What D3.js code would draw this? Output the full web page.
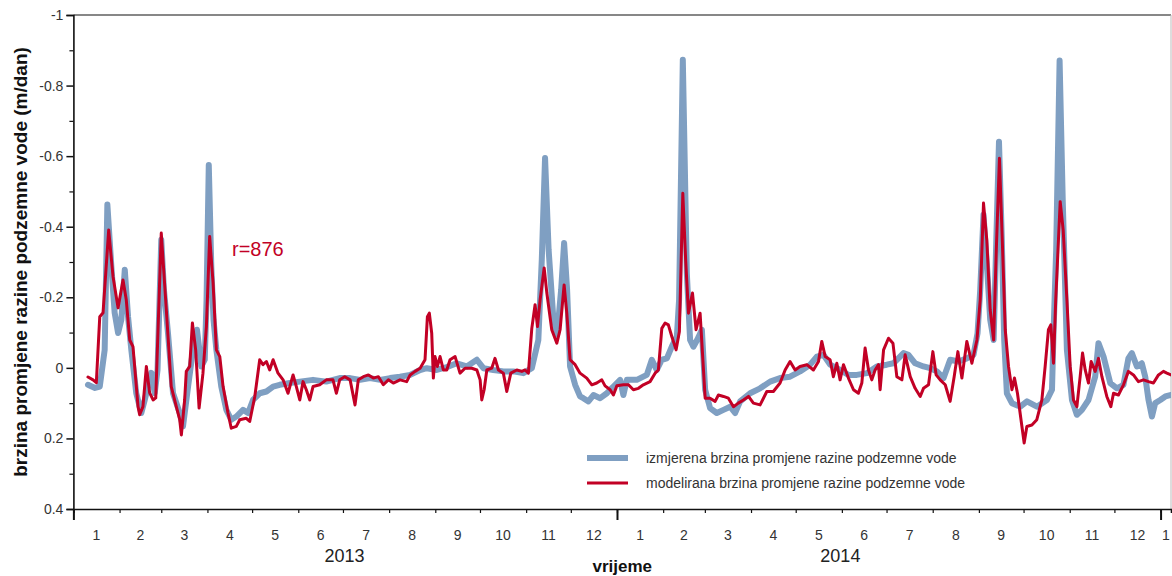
<!DOCTYPE html>
<html>
<head>
<meta charset="utf-8">
<script src="https://cdn.jsdelivr.net/npm/d3@7"></script>
<style>
  html, body { margin: 0; padding: 0; background: #fff; }
  svg { display: block; font-family: "Liberation Sans", Arial, sans-serif; }
</style>
</head>
<body>
<svg id="chart" width="1172" height="576"></svg>
<script>
// ---------- data (days since 2013-01-01, value in m/dan) ----------
const measuredDays = [9.8,14.5,17.7,21.0,22.8,25.5,27.7,30.0,32.2,34.5,36.7,38.9,42.2,45.6,47.9,52.3,54.6,56.5,59.0,60.8,63.5,66.9,71.4,73.6,77.0,80.3,83.0,85.9,88.2,89.4,90.9,92.6,94.1,96.0,99.3,102.7,106.0,109.4,113.9,117.3,120.6,125.1,129.6,134.1,138.5,145.3,152.0,160.9,169.8,178.8,185.8,192.5,199.2,205.9,212.6,219.3,226.1,232.8,237.3,244.0,250.7,257.4,264.1,270.9,275.3,282.0,288.7,295.4,302.1,307.8,312.2,314.5,316.7,319.1,322.1,324.8,327.5,329.5,331.5,333.5,336.9,340.2,342.4,345.8,349.2,353.7,358.2,360.4,362.6,367.1,369.3,371.6,378.3,385.0,388.4,391.7,395.1,398.5,401.8,405.2,406.7,409.2,411.9,414.1,416.3,418.8,422.0,424.2,427.5,432.0,436.5,441.0,444.3,447.7,454.4,461.1,467.8,474.5,481.2,487.9,494.7,499.2,503.6,508.1,514.8,520.4,526.0,532.8,539.5,546.2,550.6,557.4,560.7,565.2,570.8,575.3,579.8,584.3,588.7,594.3,599.9,604.4,607.1,608.9,611.1,613.6,615.6,617.9,619.7,621.5,623.4,625.0,626.8,630.2,635.8,640.3,647.0,653.7,657.1,658.1,659.9,662.2,664.3,667.1,670.5,673.8,677.2,681.6,686.1,688.3,691.7,696.2,700.7,705.1,708.4,710.7,714.1,717.4,719.7,721.9,724.2,726.4,729.8,733.2,736.5];
const measuredValues = [0.048,0.057,0.053,-0.051,-0.463,-0.287,-0.156,-0.099,-0.136,-0.278,-0.145,-0.051,0.072,0.128,0.091,0.014,0.072,0.006,-0.363,-0.221,-0.099,0.072,0.128,0.166,0.053,-0.051,-0.108,-0.004,-0.023,-0.193,-0.575,-0.287,-0.136,-0.051,0.053,0.119,0.147,0.138,0.119,0.128,0.091,0.072,0.067,0.053,0.048,0.043,0.039,0.034,0.039,0.029,0.029,0.034,0.029,0.034,0.029,0.025,0.020,0.006,0.001,0.006,-0.002,-0.013,-0.004,-0.023,0.001,0.006,0.010,0.010,0.015,0.001,-0.079,-0.306,-0.595,-0.334,-0.150,-0.094,-0.221,-0.354,-0.221,-0.004,0.048,0.081,0.086,0.095,0.077,0.086,0.072,0.062,0.053,0.034,0.077,0.034,0.034,0.020,-0.023,0.006,-0.023,-0.027,-0.060,-0.089,-0.193,-0.873,-0.268,-0.079,-0.060,-0.079,-0.108,0.062,0.114,0.128,0.119,0.110,0.128,0.095,0.072,0.058,0.039,0.029,0.025,0.010,-0.009,-0.032,-0.037,-0.009,0.006,0.020,0.020,0.015,-0.004,-0.009,-0.013,-0.042,-0.037,-0.013,-0.004,0.001,0.010,0.029,-0.023,-0.018,-0.027,-0.037,-0.098,-0.221,-0.434,-0.278,-0.136,-0.079,-0.363,-0.641,-0.363,-0.079,0.072,0.100,0.110,0.095,0.110,0.091,0.062,-0.098,-0.334,-0.871,-0.476,-0.051,0.091,0.133,0.119,0.091,0.025,-0.070,-0.032,0.043,0.058,0.048,-0.027,-0.042,-0.004,-0.013,0.025,0.091,0.138,0.100,0.091,0.081,0.077];

const modeledDays = [9.8,13.2,15.4,17.7,19.9,23.7,26.6,30.0,33.3,35.5,37.8,40.0,43.4,44.5,46.7,49.0,51.2,53.5,55.3,59.0,62.4,65.7,69.1,71.4,72.5,74.7,75.8,78.1,79.9,82.1,84.4,87.0,89.3,91.5,93.8,96.0,98.3,100.5,103.8,106.0,109.4,111.7,116.1,118.4,121.8,125.1,127.3,129.6,131.8,134.1,137.4,140.8,144.1,147.5,149.7,152.0,154.2,156.4,158.7,160.9,165.4,169.8,174.3,176.6,178.8,182.2,185.8,189.1,191.3,194.7,198.1,201.4,204.8,208.1,211.5,214.8,219.3,223.8,226.1,229.4,232.8,236.1,237.7,239.0,240.6,241.7,242.8,244.4,246.2,248.4,250.7,252.9,256.3,259.6,263.0,267.5,270.9,273.1,274.2,275.8,277.6,280.9,283.1,285.4,288.7,291.0,293.7,297.7,301.1,303.3,305.5,307.8,310.0,311.6,313.4,316.1,317.9,321.2,324.6,326.8,329.5,331.3,333.5,336.9,340.2,344.7,348.1,351.4,354.8,357.0,360.4,362.6,364.9,369.3,372.7,376.0,379.4,382.7,387.2,390.6,392.8,395.1,397.3,399.5,401.8,404.7,406.9,409.2,411.1,413.0,415.7,418.1,420.8,424.2,427.5,430.9,433.1,436.5,439.8,443.2,446.5,449.9,453.3,456.6,461.1,465.6,470.0,474.5,477.9,481.2,484.6,487.9,492.5,496.9,500.3,502.5,504.8,508.1,510.3,512.6,514.8,517.1,520.4,523.8,527.1,529.4,531.6,533.9,536.1,538.3,540.6,541.7,544.0,547.3,550.3,552.9,556.3,558.5,561.9,565.2,568.6,570.8,574.2,577.1,579.3,582.0,585.4,588.7,591.4,593.9,596.6,599.9,603.3,606.7,608.9,611.1,613.3,615.6,617.9,619.7,621.8,623.7,625.7,627.9,630.2,631.9,633.9,636.9,638.4,640.2,643.6,646.9,650.3,652.5,654.7,656.3,658.1,659.6,662.6,664.6,667.1,669.3,671.5,673.8,676.0,677.6,679.4,681.6,683.4,686.1,688.3,690.6,693.9,696.6,698.4,701.7,705.1,708.4,711.8,715.1,718.5,721.9,725.2,728.6,731.9,734.2,737.0];
const modeledValues = [0.026,0.034,0.042,-0.145,-0.156,-0.391,-0.259,-0.170,-0.249,-0.193,-0.079,-0.060,0.110,0.133,0.110,-0.004,0.071,0.091,0.085,-0.382,-0.164,0.053,0.110,0.147,0.190,0.091,0.010,-0.004,-0.127,-0.051,0.114,0.015,-0.117,-0.372,-0.240,-0.051,-0.032,0.053,0.128,0.171,0.166,0.147,0.143,0.152,0.081,-0.023,-0.009,-0.018,0.006,-0.023,0.015,0.034,0.072,0.020,0.053,0.091,0.039,0.062,0.091,0.053,0.048,0.034,0.034,0.072,0.034,0.025,0.034,0.105,0.034,0.025,0.020,0.029,0.025,0.048,0.034,0.043,0.034,0.039,0.020,0.010,0.001,-0.023,-0.145,-0.155,-0.098,0.029,-0.032,-0.004,-0.032,0.006,0.006,-0.023,-0.032,0.015,0.001,0.001,0.006,0.034,0.091,0.062,0.006,0.001,-0.027,0.006,0.015,0.067,0.015,0.006,0.010,0.006,0.015,-0.112,-0.179,-0.117,-0.193,-0.283,-0.212,-0.108,-0.070,-0.108,-0.235,-0.155,-0.023,-0.009,0.015,0.029,0.048,0.043,0.034,0.051,0.062,0.077,0.051,0.048,0.048,0.062,0.058,0.048,0.039,0.015,0.006,-0.112,-0.127,-0.122,-0.089,-0.051,-0.103,-0.495,-0.306,-0.155,-0.212,-0.108,-0.155,0.086,0.086,0.095,0.077,0.081,0.086,0.110,0.100,0.091,0.081,0.100,0.105,0.067,0.067,0.043,0.006,-0.018,0.006,-0.004,-0.009,0.006,-0.018,-0.075,-0.032,-0.023,0.025,-0.013,0.034,-0.009,0.029,0.062,0.072,0.043,-0.056,0.006,0.034,0.006,-0.009,0.062,-0.051,-0.084,-0.070,0.025,0.034,-0.037,0.025,0.058,0.081,0.058,0.048,-0.046,0.020,0.034,0.048,0.095,0.025,-0.046,0.029,-0.075,-0.013,-0.079,-0.193,-0.467,-0.363,-0.164,-0.079,-0.334,-0.594,-0.363,-0.108,-0.004,0.062,0.029,0.072,0.166,0.213,0.166,0.162,0.147,0.091,-0.004,-0.108,-0.122,-0.013,-0.193,-0.471,-0.391,-0.193,-0.004,0.091,0.110,0.025,-0.042,0.006,0.043,-0.018,0.010,-0.027,0.025,0.081,0.110,0.072,0.077,0.048,0.010,0.020,0.039,0.034,0.039,0.043,0.020,0.010,0.015,0.020];

const yMajorTicks = [-1, -0.8, -0.6, -0.4, -0.2, 0, 0.2, 0.4];
const yTickLabels = ["-1", "-0.8", "-0.6", "-0.4", "-0.2", "0", "0.2", "0.4"];
const yMinorTicks = [-0.9, -0.7, -0.5, -0.3, -0.1, 0.1, 0.3];
const monthLabels = ["1","2","3","4","5","6","7","8","9","10","11","12","1","2","3","4","5","6","7","8","9","10","11","12","1"];
const yearLabels = ["2013", "2014"];
const yearLabelDates = ["2013-07-02", "2014-05-31"];
const seriesNames = ["izmjerena brzina promjene razine podzemne vode", "modelirana brzina promjene razine podzemne vode"];
const yTitle = "brzina promjene razine podzemne vode (m/dan)";
const xTitle = "vrijeme";
const annotation = "r=876";

// ---------- setup ----------
const t0 = Date.UTC(2013, 0, 1);
const toDate = d => new Date(t0 + d * 864e5);
const domainStart = new Date(Date.UTC(2013, 0, 1));
const domainEnd = new Date(Date.UTC(2015, 0, 8));

const L = 73.4, R = 1171, T = 15, B = 509;
const x = d3.scaleUtc().domain([domainStart, domainEnd]).range([L, R]);
const y = d3.scaleLinear().domain([-1, 0.4]).range([T, B]);

const BLUE = "#7f9fc2", RED = "#c20025";
const svg = d3.select("#chart");

svg.append("defs").append("clipPath").attr("id", "plotclip")
  .append("rect").attr("x", L).attr("y", T - 5).attr("width", R - L).attr("height", B - T + 5);

// frame (top & right)
svg.append("line").attr("x1", L).attr("x2", R).attr("y1", T).attr("y2", T)
  .attr("stroke", "#111").attr("stroke-width", 1.2);
svg.append("line").attr("x1", R).attr("x2", R).attr("y1", T).attr("y2", B)
  .attr("stroke", "#bbb").attr("stroke-width", 1);

// lines
const line = d3.line().x(d => x(d[0])).y(d => y(d[1])).curve(d3.curveLinear);
const measured = measuredDays.map((d, i) => [toDate(d), measuredValues[i]]);
const modeled = modeledDays.map((d, i) => [toDate(d), modeledValues[i]]);
const g = svg.append("g").attr("clip-path", "url(#plotclip)");
g.append("path").datum(measured).attr("d", line).attr("fill", "none")
  .attr("stroke", BLUE).attr("stroke-width", 6).attr("stroke-linejoin", "round").attr("stroke-linecap", "round");
g.append("path").datum(modeled).attr("d", line).attr("fill", "none")
  .attr("stroke", RED).attr("stroke-width", 3).attr("stroke-linejoin", "round").attr("stroke-linecap", "round");

// y axis
const yAxis = d3.axisLeft(y).tickValues(yMajorTicks).tickSize(7)
  .tickFormat((d, i) => yTickLabels[i]);
const ya = svg.append("g").attr("transform", `translate(${L},0)`).call(yAxis);
ya.select(".domain").attr("stroke", "#111").attr("stroke-width", 1.6);
ya.selectAll(".tick line").attr("stroke", "#111").attr("stroke-width", 1.5);
ya.selectAll(".tick text").attr("font-size", 14).attr("fill", "#333")
  .attr("font-family", "'Liberation Sans', Arial, sans-serif").attr("x", -10);
const yMinor = d3.axisLeft(y).tickValues(yMinorTicks).tickSize(4).tickFormat("");
const ym = svg.append("g").attr("transform", `translate(${L},0)`).call(yMinor);
ym.select(".domain").remove();
ym.selectAll(".tick line").attr("stroke", "#111").attr("stroke-width", 1.2);

// x axis: month ticks (minor) and year ticks (major)
const monthStarts = d3.utcMonth.range(domainStart, domainEnd);
const xMinor = d3.axisBottom(x).tickValues(monthStarts).tickSize(4).tickFormat("");
const xm = svg.append("g").attr("transform", `translate(0,${B})`).call(xMinor);
xm.select(".domain").attr("stroke", "#111").attr("stroke-width", 1.6);
xm.selectAll(".tick line").attr("stroke", "#111").attr("stroke-width", 1.2);
const yearStarts = d3.utcYear.range(domainStart, domainEnd);
const xMajor = d3.axisBottom(x).tickValues(yearStarts).tickSize(11).tickFormat("");
const xM = svg.append("g").attr("transform", `translate(0,${B})`).call(xMajor);
xM.select(".domain").remove();
xM.selectAll(".tick line").attr("stroke", "#111").attr("stroke-width", 2);

// month labels centred in each month (clamped to domain end)
svg.append("g").selectAll("text").data(monthStarts).join("text")
  .attr("x", (d) => {
    const next = d3.utcMonth.offset(d, 1);
    const e = next > domainEnd ? domainEnd : next;
    return (x(d) + x(e)) / 2;
  })
  .attr("y", 540).attr("text-anchor", "middle").attr("font-size", 14).attr("fill", "#333")
  .text((d, i) => monthLabels[i]);

// year labels
svg.append("g").selectAll("text").data(yearLabelDates).join("text")
  .attr("x", d => x(new Date(d + "T00:00:00Z"))).attr("y", 562)
  .attr("text-anchor", "middle").attr("font-size", 18).attr("fill", "#222")
  .text((d, i) => yearLabels[i]);

// axis titles
svg.append("text").attr("x", (L + R) / 2).attr("y", 572).attr("text-anchor", "middle")
  .attr("font-size", 17).attr("font-weight", "bold").attr("fill", "#111").text(xTitle);
svg.append("text").attr("transform", `translate(27,${(T + B) / 2}) rotate(-90)`)
  .attr("text-anchor", "middle").attr("font-size", 19).attr("font-weight", "bold").attr("fill", "#111")
  .text(yTitle);

// annotation
svg.append("text").attr("x", 232).attr("y", 256).attr("font-size", 20).attr("fill", RED).text(annotation);

// legend
const legend = svg.append("g");
const legendItems = [{c: BLUE, w: 6, y: 458}, {c: RED, w: 3, y: 483}];
legendItems.forEach((it, i) => {
  legend.append("line").attr("x1", 587).attr("x2", 628).attr("y1", it.y).attr("y2", it.y)
    .attr("stroke", it.c).attr("stroke-width", it.w);
  legend.append("text").attr("x", 646).attr("y", it.y + 5).attr("font-size", 14).attr("fill", "#333")
    .text(seriesNames[i]);
});
</script>
</body>
</html>
